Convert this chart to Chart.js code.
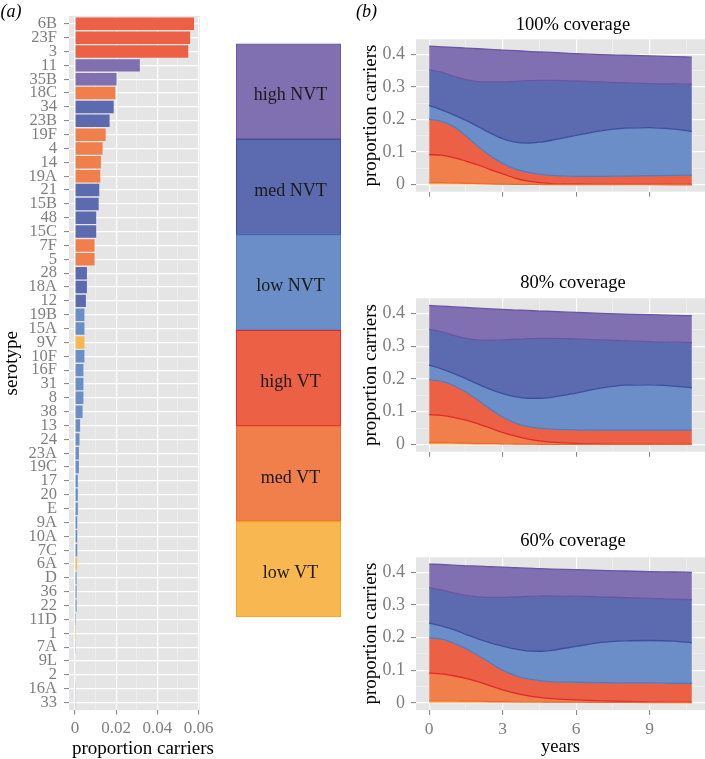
<!DOCTYPE html>
<html><head><meta charset="utf-8">
<script src="https://cdn.jsdelivr.net/npm/chart.js@4.4.1/dist/chart.umd.min.js"></script>
<style>
html,body{margin:0;padding:0;background:#fff;}
#wrap{position:relative;width:705px;height:759px;overflow:hidden;background:#fff;}
canvas{position:absolute;}
</style></head><body>
<div id="wrap">
<canvas id="bars" width="225" height="759" style="left:0px;top:0px"></canvas>
<canvas id="key" width="120" height="759" style="left:230px;top:0px"></canvas>
<canvas id="c100" width="365" height="250" style="left:340px;top:0px"></canvas>
<canvas id="c80" width="365" height="250" style="left:340px;top:250px"></canvas>
<canvas id="c60" width="365" height="259" style="left:340px;top:500px"></canvas>
</div>
<script>
// ---------- data: panel (a) ----------
const serotypes = ['6B','23F','3','11','35B','18C','34','23B','19F','4','14','19A','21','15B','48','15C','7F','5','28','18A','12','19B','15A','9V','10F','16F','31','8','38','13','24','23A','19C','17','20','E','9A','10A','7C','6A','D','36','22','11D','1','7A','9L','2','16A','33'];
const carriage = [0.0578,0.0559,0.0550,0.0315,0.0202,0.0196,0.0188,0.0168,0.0149,0.0134,0.0126,0.0123,0.0118,0.0115,0.0103,0.0103,0.0095,0.0095,0.0058,0.0058,0.0053,0.0046,0.0046,0.0046,0.0046,0.0041,0.0041,0.0041,0.0037,0.0025,0.0022,0.0019,0.0019,0.0014,0.0014,0.0014,0.0011,0.0011,0.0011,0.0010,0.0008,0.0008,0.0008,0.0005,0.0005,0.0004,0.0003,0.0003,0.0002,0.0002];
const serotypeGroup = ['high VT','high VT','high VT','high NVT','high NVT','med VT','med NVT','med NVT','med VT','med VT','med VT','med VT','med NVT','med NVT','med NVT','med NVT','med VT','med VT','med NVT','med NVT','med NVT','low NVT','low NVT','low VT','low NVT','low NVT','low NVT','low NVT','low NVT','low NVT','low NVT','low NVT','low NVT','low NVT','low NVT','low NVT','low NVT','low NVT','low NVT','low VT','low NVT','low NVT','low NVT','low NVT','low VT','low NVT','low NVT','low NVT','low NVT','low NVT'];
const barTicksMajor = [0, 0.02, 0.04, 0.06];
const barTickLabels = ['0', '0.02', '0.04', '0.06'];
const barTicksMinor = [0.01, 0.03, 0.05];

// ---------- groups (stack order bottom -> top) ----------
const groups = ['low VT', 'med VT', 'high VT', 'low NVT', 'med NVT', 'high NVT'];

// ---------- data: panel (b), proportion carriers per group ----------
const years = [0, 0.5, 1, 1.5, 2, 2.5, 3, 3.5, 4, 4.5, 5, 6, 7, 8, 9, 10, 10.72];
const yearTicksMajor = [0, 3, 6, 9];
const yearTickLabels = ['0', '3', '6', '9'];
const yearTicksMinor = [1.5, 4.5, 7.5, 10.5];
const carrierTicksMajor = [0, 0.1, 0.2, 0.3, 0.4];
const carrierTickLabels = ['0', '0.1', '0.2', '0.3', '0.4'];
const carrierTicksMinor = [0.05, 0.15, 0.25, 0.35];

const lowVT100   = [0.006,0.006,0.005,0.004,0.003,0.002,0.001,0.0005,0.0003,0.0002,0.0001,0,0,0,0,0,0];
const medVT100   = [0.086,0.084,0.078,0.068,0.057,0.044,0.032,0.0195,0.0107,0.0058,0.0029,0.001,0.0005,0.0003,0.0002,0.0001,0.0001];
const highVT100  = [0.108,0.104,0.095,0.078,0.057,0.042,0.032,0.028,0.027,0.026,0.025,0.024,0.0245,0.0257,0.0268,0.0279,0.0289];
const lowNVT100  = [0.043,0.035,0.036,0.047,0.061,0.070,0.076,0.082,0.089,0.098,0.108,0.126,0.140,0.147,0.148,0.142,0.134];
const medNVT100  = [0.109,0.116,0.119,0.125,0.138,0.157,0.174,0.187,0.192,0.190,0.184,0.167,0.150,0.139,0.135,0.139,0.145];
const highNVT100 = [0.073,0.078,0.088,0.097,0.101,0.100,0.098,0.094,0.090,0.087,0.086,0.084,0.084,0.085,0.085,0.084,0.083];

const lowVT80   = [0.006,0.006,0.005,0.004,0.003,0.003,0.002,0.0015,0.001,0.0008,0.0006,0.0004,0.0003,0.0002,0.0002,0.0001,0.0001];
const medVT80   = [0.085,0.083,0.078,0.070,0.060,0.047,0.035,0.0245,0.016,0.0102,0.0064,0.0026,0.0012,0.0008,0.0005,0.0004,0.0004];
const highVT80  = [0.107,0.104,0.097,0.086,0.072,0.058,0.047,0.040,0.038,0.039,0.040,0.042,0.0425,0.043,0.0433,0.0435,0.0435];
const lowNVT80  = [0.044,0.038,0.037,0.041,0.049,0.060,0.071,0.080,0.086,0.091,0.097,0.112,0.128,0.137,0.138,0.134,0.129];
const medNVT80  = [0.109,0.113,0.116,0.123,0.135,0.150,0.164,0.175,0.182,0.183,0.180,0.165,0.147,0.135,0.132,0.134,0.138];
const highNVT80 = [0.073,0.078,0.087,0.094,0.097,0.096,0.093,0.089,0.086,0.083,0.082,0.081,0.081,0.082,0.082,0.082,0.082];

const lowVT60   = [0.006,0.006,0.006,0.005,0.005,0.004,0.004,0.003,0.003,0.003,0.002,0.002,0.0015,0.0012,0.001,0.001,0.001];
const medVT60   = [0.085,0.083,0.077,0.070,0.060,0.048,0.036,0.027,0.019,0.014,0.011,0.007,0.0045,0.0028,0.002,0.001,0.001];
const highVT60  = [0.108,0.106,0.100,0.091,0.080,0.070,0.060,0.054,0.052,0.051,0.052,0.054,0.056,0.057,0.058,0.058,0.058];
const lowNVT60  = [0.045,0.041,0.041,0.044,0.051,0.062,0.074,0.081,0.085,0.090,0.096,0.110,0.123,0.129,0.130,0.129,0.124];
const medNVT60  = [0.108,0.110,0.113,0.119,0.129,0.139,0.149,0.160,0.167,0.169,0.167,0.154,0.140,0.132,0.129,0.129,0.132];
const highNVT60 = [0.073,0.078,0.085,0.091,0.094,0.094,0.093,0.089,0.087,0.084,0.082,0.081,0.081,0.082,0.082,0.083,0.084];

// ---------- styles ----------
const fillColor = {'low VT':'#F9B751','med VT':'#F07F4C','high VT':'#EC6146','low NVT':'#6B8EC9','med NVT':'#5C6AB0','high NVT':'#8170B1'};
const lineColor = {'low VT':'#F5A31A','med VT':'#F06A30','high VT':'#E3262A','low NVT':'#4F7DC2','med NVT':'#3D4DA0','high NVT':'#6A55A3'};
const GRAY_TXT = '#7F7F7F';
const SERIF = '"Liberation Serif", "Times New Roman", "DejaVu Serif", serif';
Chart.defaults.font.family = SERIF;
Chart.defaults.color = GRAY_TXT;

const panelBg = {
  id: 'panelBg',
  beforeDraw(chart, args, opts) {
    if (!opts || !opts.color) return;
    const a = chart.chartArea, ctx = chart.ctx;
    const e = Object.assign({t:0,b:0,l:0,r:0}, opts.extend || {});
    ctx.save();
    ctx.fillStyle = opts.color;
    ctx.fillRect(a.left - e.l, a.top - e.t, a.right - a.left + e.l + e.r, a.bottom - a.top + e.t + e.b);
    ctx.restore();
  }
};
const textLabels = {
  id: 'textLabels',
  afterDraw(chart, args, opts) {
    const ctx = chart.ctx;
    (opts.items || []).forEach(it => {
      ctx.save();
      ctx.font = it.font;
      ctx.fillStyle = it.color || '#000';
      ctx.textAlign = 'center';
      ctx.textBaseline = 'alphabetic';
      ctx.fillText(it.text, it.x, it.y);
      ctx.restore();
    });
  }
};
const keyLabels = {
  id: 'keyLabels',
  afterDatasetsDraw(chart) {
    const ctx = chart.ctx;
    chart.data.datasets.forEach((ds, i) => {
      const el = chart.getDatasetMeta(i).data[0];
      const p = el.getProps(['x', 'y', 'base'], true);
      const cy = (p.y + p.base) / 2;
      ctx.save();
      ctx.font = '18px ' + SERIF;
      ctx.fillStyle = '#1A1A1A';
      ctx.textAlign = 'center';
      ctx.textBaseline = 'alphabetic';
      ctx.fillText(ds.label, p.x + 2, cy + 9);
      ctx.restore();
    });
  }
};

function gridFor(majors) {
  const isMaj = c => c.tick && majors.includes(c.tick.value);
  return {
    color: c => isMaj(c) ? '#FFFFFF' : '#F3F3F3',
    lineWidth: c => isMaj(c) ? 1.2 : 0.6,
    tickColor: c => isMaj(c) ? GRAY_TXT : 'rgba(0,0,0,0)',
    tickWidth: 1, tickLength: 5, drawTicks: true
  };
}
function setTicks(majors, minors) {
  return s => { s.ticks = majors.concat(minors).sort((a, b) => a - b).map(v => ({value: v})); };
}
function labelFor(majors, labels) {
  return v => { const i = majors.indexOf(v); return i >= 0 ? labels[i] : ''; };
}

// ---------- panel (a) bar chart ----------
new Chart(document.getElementById('bars'), {
  type: 'bar',
  data: {
    labels: serotypes,
    datasets: [{
      data: carriage,
      backgroundColor: serotypeGroup.map(g => fillColor[g]),
      borderWidth: 0, barPercentage: 0.9, categoryPercentage: 1
    }]
  },
  options: {
    indexAxis: 'y', responsive: false, animation: false, events: [],
    layout: {padding: {left: 0, right: 25, top: 14, bottom: 0}},
    plugins: {
      legend: {display: false}, tooltip: {enabled: false},
      panelBg: {color: '#E5E5E5', extend: {t: 1, b: 0.5}},
      textLabels: {items: [
        {text: '(a)', x: 11, y: 17, font: 'italic 18px ' + SERIF},
        {text: 'proportion carriers', x: 143, y: 754, font: '19px ' + SERIF}
      ]}
    },
    scales: {
      x: {
        type: 'linear', min: -0.0029, max: 0.0607,
        afterBuildTicks: setTicks(barTicksMajor, barTicksMinor),
        ticks: {callback: labelFor(barTicksMajor, barTickLabels), autoSkip: false, maxRotation: 0, minRotation: 0,
                color: GRAY_TXT, font: {size: 17}, padding: 4},
        grid: gridFor(barTicksMajor),
        border: {display: false},
        afterFit: s => { s.height = 49.5; }
      },
      y: {
        type: 'category',
        grid: {offset: false, color: '#FFFFFF', lineWidth: 1.2, tickColor: GRAY_TXT, tickWidth: 1, tickLength: 5},
        border: {display: false},
        ticks: {autoSkip: false, color: GRAY_TXT, font: {size: 16.5}, padding: 7},
        title: {display: true, text: 'serotype', color: '#000', font: {size: 19, lineHeight: 1}, padding: {top: 3, bottom: 0}},
        afterFit: s => { s.width = 69; }
      }
    }
  },
  plugins: [panelBg, textLabels]
});

// ---------- key (stacked boxes) ----------
new Chart(document.getElementById('key'), {
  type: 'bar',
  data: {
    labels: ['key'],
    datasets: groups.map(g => ({
      label: g, data: [1], backgroundColor: fillColor[g], borderColor: lineColor[g],
      borderWidth: 1.2, borderSkipped: false, barPercentage: 1, categoryPercentage: 1
    }))
  },
  options: {
    responsive: false, animation: false, events: [],
    layout: {padding: {left: 6, right: 9, top: 43.5, bottom: 142}},
    plugins: {legend: {display: false}, tooltip: {enabled: false}},
    scales: {
      x: {display: false, stacked: true},
      y: {display: false, stacked: true, min: 0, max: 6}
    }
  },
  plugins: [keyLabels]
});

// ---------- panel (b) stacked areas ----------
function coverageChart(id, title, series, cfg) {
  const datasets = groups.map((g, i) => ({
    label: g,
    data: years.map((x, j) => ({x: x, y: series[i][j]})),
    backgroundColor: fillColor[g],
    borderColor: lineColor[groups[Math.min(i + 1, groups.length - 1)]],
    borderWidth: 1.3,
    pointRadius: 0,
    cubicInterpolationMode: 'monotone',
    fill: i === 0 ? 'origin' : '-1'
  }));
  const items = [{text: title, x: 233, y: cfg.titleY, font: '18.5px ' + SERIF}];
  if (cfg.panelTag) items.push({text: '(b)', x: 26.5, y: 17, font: 'italic 18px ' + SERIF});
  new Chart(document.getElementById(id), {
    type: 'line',
    data: {datasets: datasets},
    options: {
      responsive: false, animation: false, events: [],
      layout: {padding: {left: 0, right: 0, top: cfg.top, bottom: 0}},
      plugins: {
        legend: {display: false}, tooltip: {enabled: false},
        panelBg: {color: '#E5E5E5'},
        textLabels: {items: items}
      },
      scales: {
        x: {
          type: 'linear', min: -0.536, max: 11.256,
          afterBuildTicks: setTicks(yearTicksMajor, yearTicksMinor),
          ticks: {callback: labelFor(yearTicksMajor, yearTickLabels), autoSkip: false, maxRotation: 0, minRotation: 0,
                  color: cfg.showX ? GRAY_TXT : 'rgba(0,0,0,0)', font: {size: 17.5}, padding: 4},
          grid: gridFor(yearTicksMajor),
          border: {display: false},
          title: {display: cfg.showX, text: 'years', color: '#000', font: {size: 18.5, lineHeight: 1}, padding: {top: 0, bottom: 3}},
          afterFit: s => { s.height = cfg.xh; }
        },
        y: {
          type: 'linear', stacked: true, min: -0.022, max: 0.446,
          afterBuildTicks: setTicks(carrierTicksMajor, carrierTicksMinor),
          ticks: {callback: labelFor(carrierTicksMajor, carrierTickLabels), autoSkip: false, color: GRAY_TXT, font: {size: 18}, padding: 6},
          grid: gridFor(carrierTicksMajor),
          border: {display: false},
          title: {display: true, text: 'proportion carriers', color: '#000', font: {size: 19, lineHeight: 1}, padding: {top: 22, bottom: 0}},
          afterFit: s => { s.width = 76; }
        }
      }
    },
    plugins: [panelBg, textLabels]
  });
}

coverageChart('c100', '100% coverage', [lowVT100, medVT100, highVT100, lowNVT100, medNVT100, highNVT100],
  {top: 39.3, xh: 58.3, titleY: 29.5, showX: false, panelTag: true});
coverageChart('c80', '80% coverage', [lowVT80, medVT80, highVT80, lowNVT80, medNVT80, highNVT80],
  {top: 48.3, xh: 48.3, titleY: 37.5, showX: false, panelTag: false});
coverageChart('c60', '60% coverage', [lowVT60, medVT60, highVT60, lowNVT60, medNVT60, highNVT60],
  {top: 57.3, xh: 49, titleY: 46, showX: true, panelTag: false});
</script>
</body></html>
